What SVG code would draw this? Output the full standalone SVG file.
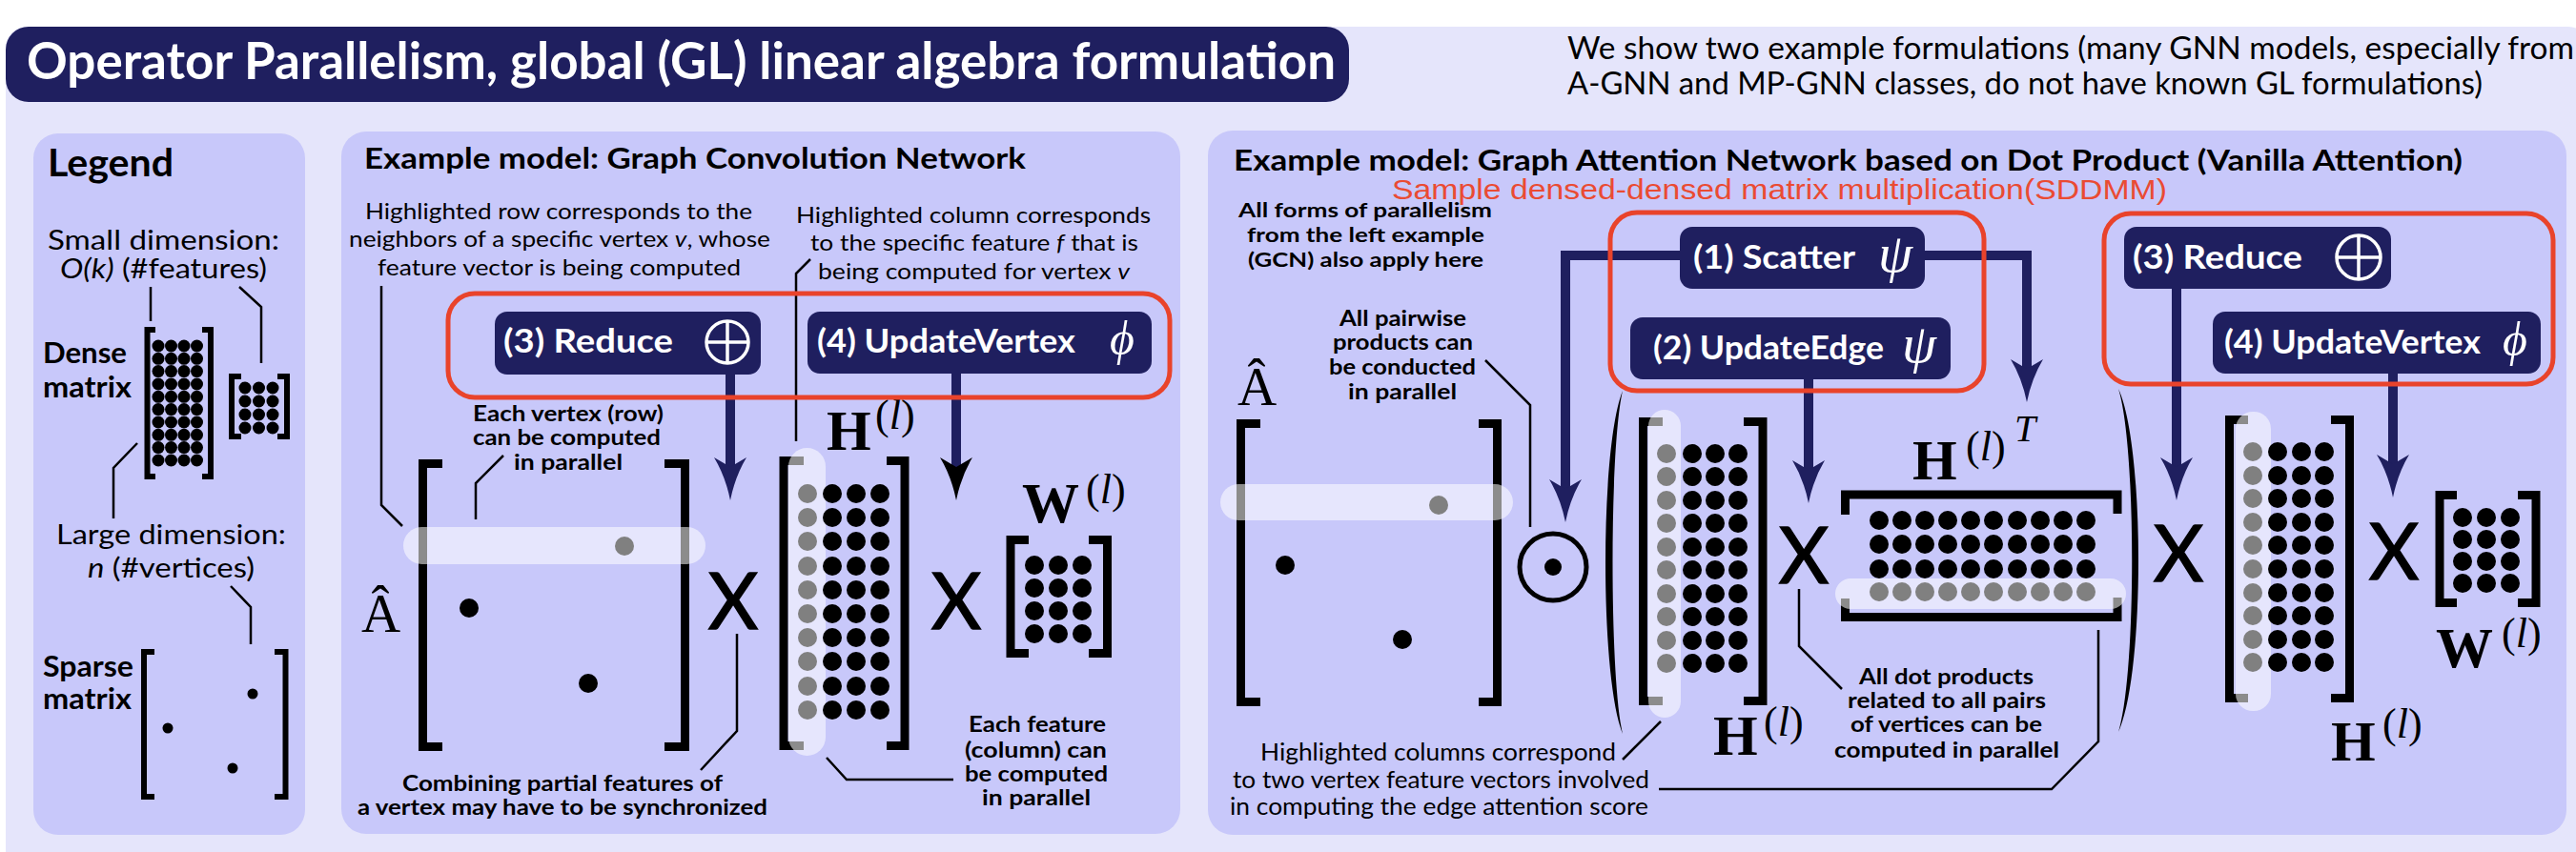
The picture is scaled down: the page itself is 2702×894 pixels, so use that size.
<svg xmlns="http://www.w3.org/2000/svg" width="2702" height="894" viewBox="0 0 2702 894">
<style>
.t{font-family:Lato,"Liberation Sans",sans-serif;}
.b{font-weight:bold;}
.w{fill:#fff;}
.m{font-family:"Liberation Serif","DejaVu Serif",serif;}
.it{font-style:italic;}
.panel{fill:#c8c8fa;}
.box{fill:#1f1f5f;}
.red{fill:none;stroke:#e9432b;stroke-width:5;}
.brk{fill:none;stroke:#000;stroke-width:9;}
.brks{fill:none;stroke:#000;stroke-width:6;}
.hl{fill:#fff;fill-opacity:0.55;}
.ln{fill:none;stroke:#000;stroke-width:2.5;}
.arr{fill:none;stroke:#1f1f5f;stroke-width:10;}
.g{fill:#808080;}
.x{stroke:#000;stroke-width:1.5;}
</style>
<defs>
<marker id="ah" markerUnits="userSpaceOnUse" markerWidth="50" markerHeight="40" viewBox="0 -20 50 40" refX="10" refY="0" orient="auto">
<path d="M0,-17 L10,0 L0,17 Q20,5 45,0 Q20,-5 0,-17 Z" fill="#1f1f5f"/>
</marker>
<marker id="ahk" markerUnits="userSpaceOnUse" markerWidth="50" markerHeight="40" viewBox="0 -20 50 40" refX="10" refY="0" orient="auto">
<path d="M0,-17 L10,0 L0,17 Q20,5 45,0 Q20,-5 0,-17 Z" fill="#000"/>
</marker>
</defs>

<rect x="0" y="0" width="2702" height="894" fill="#fff"/>
<rect x="6" y="28" width="2710" height="890" rx="22" fill="#e5e5fb"/>

<g id="title">
<rect x="6" y="28" width="1409" height="79" rx="24" class="box"/>
<text x="28" y="83" class="t b w" font-size="53" textLength="1373" lengthAdjust="spacingAndGlyphs">Operator Parallelism, global (GL) linear algebra formulation</text>
</g>
<g id="note">
<text x="1644" y="62" class="t" font-size="33" textLength="1056" lengthAdjust="spacingAndGlyphs">We show two example formulations (many GNN models, especially from</text>
<text x="1644" y="99" class="t" font-size="33" textLength="960" lengthAdjust="spacingAndGlyphs">A-GNN and MP-GNN classes, do not have known GL formulations)</text>
</g>

<!-- panels -->
<rect id="legend-panel" x="35" y="140" width="285" height="736" rx="26" class="panel"/>
<rect id="gcn-panel" x="358" y="138" width="880" height="737" rx="26" class="panel"/>
<rect id="gat-panel" x="1267" y="137" width="1425" height="739" rx="26" class="panel"/>

<!-- Legend -->
<g id="legend">
<text x="50" y="185" class="t b" font-size="41" textLength="132" lengthAdjust="spacingAndGlyphs">Legend</text>
<text x="50" y="262" class="t" font-size="29" textLength="243" lengthAdjust="spacingAndGlyphs">Small dimension:</text>
<text x="63" y="292" class="t" font-size="29" textLength="217" lengthAdjust="spacingAndGlyphs"><tspan class="it">O(k)</tspan> (#features)</text>
<text x="45" y="381" class="t b" font-size="31" textLength="88" lengthAdjust="spacingAndGlyphs">Dense</text>
<text x="45" y="417" class="t b" font-size="31" textLength="93" lengthAdjust="spacingAndGlyphs">matrix</text>
<text x="59" y="571" class="t" font-size="29" textLength="241" lengthAdjust="spacingAndGlyphs">Large dimension:</text>
<text x="92" y="606" class="t" font-size="29" textLength="175" lengthAdjust="spacingAndGlyphs"><tspan class="it">n</tspan> (#vertices)</text>
<text x="45" y="710" class="t b" font-size="31" textLength="95" lengthAdjust="spacingAndGlyphs">Sparse</text>
<text x="45" y="744" class="t b" font-size="31" textLength="93" lengthAdjust="spacingAndGlyphs">matrix</text>
<path class="ln" d="M158 301 V337 M251 301 L274 322 V381 M144 465 L119 491 V544 M242 615 L263 637 V676"/>
</g>
<g id="legend-dense">
<path class="brks" d="M163 346 H154.5 V500 H163 M212 346 H221 V500 H212"/>
<g>
<circle cx="166" cy="363" r="6.5"/><circle cx="179.5" cy="363" r="6.5"/><circle cx="193" cy="363" r="6.5"/><circle cx="206.5" cy="363" r="6.5"/>
<circle cx="166" cy="376.3" r="6.5"/><circle cx="179.5" cy="376.3" r="6.5"/><circle cx="193" cy="376.3" r="6.5"/><circle cx="206.5" cy="376.3" r="6.5"/>
<circle cx="166" cy="389.6" r="6.5"/><circle cx="179.5" cy="389.6" r="6.5"/><circle cx="193" cy="389.6" r="6.5"/><circle cx="206.5" cy="389.6" r="6.5"/>
<circle cx="166" cy="403" r="6.5"/><circle cx="179.5" cy="403" r="6.5"/><circle cx="193" cy="403" r="6.5"/><circle cx="206.5" cy="403" r="6.5"/>
<circle cx="166" cy="416.3" r="6.5"/><circle cx="179.5" cy="416.3" r="6.5"/><circle cx="193" cy="416.3" r="6.5"/><circle cx="206.5" cy="416.3" r="6.5"/>
<circle cx="166" cy="429.6" r="6.5"/><circle cx="179.5" cy="429.6" r="6.5"/><circle cx="193" cy="429.6" r="6.5"/><circle cx="206.5" cy="429.6" r="6.5"/>
<circle cx="166" cy="443" r="6.5"/><circle cx="179.5" cy="443" r="6.5"/><circle cx="193" cy="443" r="6.5"/><circle cx="206.5" cy="443" r="6.5"/>
<circle cx="166" cy="456.3" r="6.5"/><circle cx="179.5" cy="456.3" r="6.5"/><circle cx="193" cy="456.3" r="6.5"/><circle cx="206.5" cy="456.3" r="6.5"/>
<circle cx="166" cy="469.6" r="6.5"/><circle cx="179.5" cy="469.6" r="6.5"/><circle cx="193" cy="469.6" r="6.5"/><circle cx="206.5" cy="469.6" r="6.5"/>
<circle cx="166" cy="483" r="6.5"/><circle cx="179.5" cy="483" r="6.5"/><circle cx="193" cy="483" r="6.5"/><circle cx="206.5" cy="483" r="6.5"/>
</g>
</g>
<g id="legend-small">
<path class="brks" d="M253 395 H243 V458 H253 M291 395 H301 V458 H291"/>
<circle cx="257" cy="407" r="6.5"/><circle cx="271.5" cy="407" r="6.5"/><circle cx="286" cy="407" r="6.5"/>
<circle cx="257" cy="421" r="6.5"/><circle cx="271.5" cy="421" r="6.5"/><circle cx="286" cy="421" r="6.5"/>
<circle cx="257" cy="435" r="6.5"/><circle cx="271.5" cy="435" r="6.5"/><circle cx="286" cy="435" r="6.5"/>
<circle cx="257" cy="449" r="6.5"/><circle cx="271.5" cy="449" r="6.5"/><circle cx="286" cy="449" r="6.5"/>
</g>
<g id="legend-sparse">
<path class="brks" d="M162 684 H151 V836 H162 M288 684 H299.5 V836 H288"/>
<circle cx="265" cy="728" r="5.5"/><circle cx="176" cy="764" r="5.5"/><circle cx="244" cy="806" r="5.5"/>
</g>

<!-- GCN -->
<g id="gcn-text">
<text x="382" y="177" class="t b" font-size="31" textLength="694" lengthAdjust="spacingAndGlyphs">Example model: Graph Convolution Network</text>
<text x="383" y="230" class="t" font-size="24" textLength="406" lengthAdjust="spacingAndGlyphs">Highlighted row corresponds to the</text>
<text x="366" y="259" class="t" font-size="24" textLength="442" lengthAdjust="spacingAndGlyphs">neighbors of a specific vertex <tspan class="it">v</tspan>, whose</text>
<text x="396" y="289" class="t" font-size="24" textLength="381" lengthAdjust="spacingAndGlyphs">feature vector is being computed</text>
<text x="835" y="234" class="t" font-size="24" textLength="372" lengthAdjust="spacingAndGlyphs">Highlighted column corresponds</text>
<text x="850" y="263" class="t" font-size="24" textLength="344" lengthAdjust="spacingAndGlyphs">to the specific feature <tspan class="it">f</tspan> that is</text>
<text x="858" y="293" class="t" font-size="24" textLength="327" lengthAdjust="spacingAndGlyphs">being computed for vertex <tspan class="it">v</tspan></text>
<text x="496" y="442" class="t b" font-size="22" textLength="200" lengthAdjust="spacingAndGlyphs">Each vertex (row)</text>
<text x="496" y="467" class="t b" font-size="22" textLength="197" lengthAdjust="spacingAndGlyphs">can be computed</text>
<text x="539" y="493" class="t b" font-size="22" textLength="114" lengthAdjust="spacingAndGlyphs">in parallel</text>
<text x="422" y="830" class="t b" font-size="22" textLength="336" lengthAdjust="spacingAndGlyphs">Combining partial features of</text>
<text x="375" y="855" class="t b" font-size="22" textLength="430" lengthAdjust="spacingAndGlyphs">a vertex may have to be synchronized</text>
<text x="1016" y="768" class="t b" font-size="22" textLength="144" lengthAdjust="spacingAndGlyphs">Each feature</text>
<text x="1012" y="795" class="t b" font-size="22" textLength="149" lengthAdjust="spacingAndGlyphs">(column) can</text>
<text x="1012" y="820" class="t b" font-size="22" textLength="150" lengthAdjust="spacingAndGlyphs">be computed</text>
<text x="1030" y="845" class="t b" font-size="22" textLength="114" lengthAdjust="spacingAndGlyphs">in parallel</text>
<text x="769" y="660" class="t x" font-size="81" text-anchor="middle">X</text>
<text x="1003" y="660" class="t x" font-size="81" text-anchor="middle">X</text>
</g>

<g id="gcn-A">
<text x="379" y="663" class="m" font-size="57">Â</text>
<path class="brk" d="M464 486.5 H443.5 V783.5 H464 M697 486.5 H718.5 V783.5 H697"/>
<rect x="423" y="553" width="317" height="39" rx="19.5" class="hl"/>
<circle cx="655" cy="573" r="10" class="g"/>
<circle cx="492" cy="638" r="10"/>
<circle cx="617" cy="717" r="10"/>
</g>

<g id="gcn-H">
<text x="867" y="472" class="m b" font-size="60">H</text>
<text x="918" y="450" class="m" font-size="44">(<tspan class="it">l</tspan>)</text>
<path class="brk" d="M843 483.5 H822 V782.5 H843 M930 483.5 H949 V782.5 H930"/>
<rect x="827" y="470" width="39" height="323" rx="19.5" class="hl"/>
<g class="g">
<circle cx="847" cy="518" r="10"/><circle cx="847" cy="543" r="10"/><circle cx="847" cy="568" r="10"/><circle cx="847" cy="594" r="10"/><circle cx="847" cy="619" r="10"/><circle cx="847" cy="644" r="10"/><circle cx="847" cy="669" r="10"/><circle cx="847" cy="694" r="10"/><circle cx="847" cy="720" r="10"/><circle cx="847" cy="745" r="10"/>
</g>
<g>
<circle cx="873" cy="518" r="10"/><circle cx="873" cy="543" r="10"/><circle cx="873" cy="568" r="10"/><circle cx="873" cy="594" r="10"/><circle cx="873" cy="619" r="10"/><circle cx="873" cy="644" r="10"/><circle cx="873" cy="669" r="10"/><circle cx="873" cy="694" r="10"/><circle cx="873" cy="720" r="10"/><circle cx="873" cy="745" r="10"/>
<circle cx="898" cy="518" r="10"/><circle cx="898" cy="543" r="10"/><circle cx="898" cy="568" r="10"/><circle cx="898" cy="594" r="10"/><circle cx="898" cy="619" r="10"/><circle cx="898" cy="644" r="10"/><circle cx="898" cy="669" r="10"/><circle cx="898" cy="694" r="10"/><circle cx="898" cy="720" r="10"/><circle cx="898" cy="745" r="10"/>
<circle cx="923" cy="518" r="10"/><circle cx="923" cy="543" r="10"/><circle cx="923" cy="568" r="10"/><circle cx="923" cy="594" r="10"/><circle cx="923" cy="619" r="10"/><circle cx="923" cy="644" r="10"/><circle cx="923" cy="669" r="10"/><circle cx="923" cy="694" r="10"/><circle cx="923" cy="720" r="10"/><circle cx="923" cy="745" r="10"/>
</g>
</g>

<g id="gcn-W">
<text x="1072" y="548" class="m b" font-size="60">W</text>
<text x="1139" y="528" class="m" font-size="44">(<tspan class="it">l</tspan>)</text>
<path class="brk" d="M1079 566.5 H1060 V685.5 H1079 M1142 566.5 H1161.5 V685.5 H1142"/>
<circle cx="1085" cy="593" r="10"/><circle cx="1110" cy="593" r="10"/><circle cx="1135" cy="593" r="10"/>
<circle cx="1085" cy="617" r="10"/><circle cx="1110" cy="617" r="10"/><circle cx="1135" cy="617" r="10"/>
<circle cx="1085" cy="641" r="10"/><circle cx="1110" cy="641" r="10"/><circle cx="1135" cy="641" r="10"/>
<circle cx="1085" cy="665" r="10"/><circle cx="1110" cy="665" r="10"/><circle cx="1135" cy="665" r="10"/>
</g>

<!-- GAT -->
<g id="gat-text">
<text x="1294" y="179" class="t b" font-size="31" textLength="1289" lengthAdjust="spacingAndGlyphs">Example model: Graph Attention Network based on Dot Product (Vanilla Attention)</text>
<text x="1460" y="209" font-family="'Liberation Sans',Arial,sans-serif" font-size="30" fill="#ea4b33" textLength="813" lengthAdjust="spacingAndGlyphs">Sample densed-densed matrix multiplication(SDDMM)</text>
<text x="1299" y="228" class="t b" font-size="21" textLength="266" lengthAdjust="spacingAndGlyphs">All forms of parallelism</text>
<text x="1308" y="254" class="t b" font-size="21" textLength="249" lengthAdjust="spacingAndGlyphs">from the left example</text>
<text x="1309" y="280" class="t b" font-size="21" textLength="247" lengthAdjust="spacingAndGlyphs">(GCN) also apply here</text>
<text x="1405" y="342" class="t b" font-size="22" textLength="133" lengthAdjust="spacingAndGlyphs">All pairwise</text>
<text x="1398" y="367" class="t b" font-size="22" textLength="147" lengthAdjust="spacingAndGlyphs">products can</text>
<text x="1394" y="393" class="t b" font-size="22" textLength="154" lengthAdjust="spacingAndGlyphs">be conducted</text>
<text x="1414" y="419" class="t b" font-size="22" textLength="114" lengthAdjust="spacingAndGlyphs">in parallel</text>
<text x="1950" y="718" class="t b" font-size="23" textLength="183" lengthAdjust="spacingAndGlyphs">All dot products</text>
<text x="1938" y="743" class="t b" font-size="23" textLength="208" lengthAdjust="spacingAndGlyphs">related to all pairs</text>
<text x="1941" y="768" class="t b" font-size="23" textLength="201" lengthAdjust="spacingAndGlyphs">of vertices can be</text>
<text x="1924" y="795" class="t b" font-size="23" textLength="236" lengthAdjust="spacingAndGlyphs">computed in parallel</text>
<text x="1322" y="798" class="t" font-size="25" textLength="373" lengthAdjust="spacingAndGlyphs">Highlighted columns correspond</text>
<text x="1293" y="827" class="t" font-size="25" textLength="437" lengthAdjust="spacingAndGlyphs">to two vertex feature vectors involved</text>
<text x="1290" y="855" class="t" font-size="25" textLength="439" lengthAdjust="spacingAndGlyphs">in computing the edge attention score</text>
<text x="1892" y="612" class="t x" font-size="81" text-anchor="middle">X</text>
<text x="2285" y="610" class="t x" font-size="81" text-anchor="middle">X</text>
<text x="2511" y="608" class="t x" font-size="81" text-anchor="middle">X</text>
</g>

<g id="gat-A">
<text x="1298" y="425" class="m" font-size="57">Â</text>
<path class="brk" d="M1322 444.5 H1301.5 V736.5 H1322 M1551 444.5 H1570.5 V736.5 H1551"/>
<rect x="1280" y="508" width="307" height="38" rx="19" class="hl"/>
<circle cx="1509" cy="530" r="10" class="g"/>
<circle cx="1348" cy="593" r="10"/>
<circle cx="1471" cy="671" r="10"/>
</g>

<g id="hadamard">
<circle cx="1629" cy="595" r="35" fill="none" stroke="#000" stroke-width="5"/>
<circle cx="1629" cy="595" r="9"/>
</g>

<g id="parens">
<path d="M1702 410 C1678 470 1678 710 1702 770 C1688 710 1688 470 1702 410 Z"/>
<path d="M2222 408 C2250 468 2250 708 2222 768 C2241 708 2241 468 2222 408 Z"/>
</g>

<g id="gat-H1">
<text x="1797" y="792" class="m b" font-size="60">H</text>
<text x="1850" y="772" class="m" font-size="44">(<tspan class="it">l</tspan>)</text>
<path class="brk" d="M1744 442.5 H1723.5 V735.5 H1744 M1829 442.5 H1849 V735.5 H1829"/>
<rect x="1729" y="430" width="34" height="323" rx="17" class="hl"/>
<g class="g">
<circle cx="1748" cy="476" r="10"/><circle cx="1748" cy="500" r="10"/><circle cx="1748" cy="525" r="10"/><circle cx="1748" cy="549" r="10"/><circle cx="1748" cy="574" r="10"/><circle cx="1748" cy="598" r="10"/><circle cx="1748" cy="623" r="10"/><circle cx="1748" cy="647" r="10"/><circle cx="1748" cy="672" r="10"/><circle cx="1748" cy="696" r="10"/>
</g>
<g>
<circle cx="1775" cy="476" r="10"/><circle cx="1775" cy="500" r="10"/><circle cx="1775" cy="525" r="10"/><circle cx="1775" cy="549" r="10"/><circle cx="1775" cy="574" r="10"/><circle cx="1775" cy="598" r="10"/><circle cx="1775" cy="623" r="10"/><circle cx="1775" cy="647" r="10"/><circle cx="1775" cy="672" r="10"/><circle cx="1775" cy="696" r="10"/>
<circle cx="1799" cy="476" r="10"/><circle cx="1799" cy="500" r="10"/><circle cx="1799" cy="525" r="10"/><circle cx="1799" cy="549" r="10"/><circle cx="1799" cy="574" r="10"/><circle cx="1799" cy="598" r="10"/><circle cx="1799" cy="623" r="10"/><circle cx="1799" cy="647" r="10"/><circle cx="1799" cy="672" r="10"/><circle cx="1799" cy="696" r="10"/>
<circle cx="1823" cy="476" r="10"/><circle cx="1823" cy="500" r="10"/><circle cx="1823" cy="525" r="10"/><circle cx="1823" cy="549" r="10"/><circle cx="1823" cy="574" r="10"/><circle cx="1823" cy="598" r="10"/><circle cx="1823" cy="623" r="10"/><circle cx="1823" cy="647" r="10"/><circle cx="1823" cy="672" r="10"/><circle cx="1823" cy="696" r="10"/>
</g>
</g>

<g id="gat-HT">
<text x="2006" y="503" class="m b" font-size="60">H</text>
<text x="2062" y="483" class="m" font-size="44">(<tspan class="it">l</tspan>)</text>
<text x="2113" y="463" class="m it" font-size="40">T</text>
<path class="brk" d="M1935.5 540 V519 H2221 V539 M1935.5 628 V647.5 H2221 V627"/>
<g>
<circle cx="1971" cy="546" r="10"/><circle cx="1995" cy="546" r="10"/><circle cx="2019" cy="546" r="10"/><circle cx="2043" cy="546" r="10"/><circle cx="2067" cy="546" r="10"/><circle cx="2091" cy="546" r="10"/><circle cx="2116" cy="546" r="10"/><circle cx="2140" cy="546" r="10"/><circle cx="2164" cy="546" r="10"/><circle cx="2188" cy="546" r="10"/>
<circle cx="1971" cy="571" r="10"/><circle cx="1995" cy="571" r="10"/><circle cx="2019" cy="571" r="10"/><circle cx="2043" cy="571" r="10"/><circle cx="2067" cy="571" r="10"/><circle cx="2091" cy="571" r="10"/><circle cx="2116" cy="571" r="10"/><circle cx="2140" cy="571" r="10"/><circle cx="2164" cy="571" r="10"/><circle cx="2188" cy="571" r="10"/>
<circle cx="1971" cy="597" r="10"/><circle cx="1995" cy="597" r="10"/><circle cx="2019" cy="597" r="10"/><circle cx="2043" cy="597" r="10"/><circle cx="2067" cy="597" r="10"/><circle cx="2091" cy="597" r="10"/><circle cx="2116" cy="597" r="10"/><circle cx="2140" cy="597" r="10"/><circle cx="2164" cy="597" r="10"/><circle cx="2188" cy="597" r="10"/>
</g>
<rect x="1925" y="607" width="305" height="32" rx="16" class="hl"/>
<g class="g">
<circle cx="1971" cy="621" r="10"/><circle cx="1995" cy="621" r="10"/><circle cx="2019" cy="621" r="10"/><circle cx="2043" cy="621" r="10"/><circle cx="2067" cy="621" r="10"/><circle cx="2091" cy="621" r="10"/><circle cx="2116" cy="621" r="10"/><circle cx="2140" cy="621" r="10"/><circle cx="2164" cy="621" r="10"/><circle cx="2188" cy="621" r="10"/>
</g>
</g>

<g id="gat-H2">
<text x="2445" y="798" class="m b" font-size="60">H</text>
<text x="2499" y="774" class="m" font-size="44">(<tspan class="it">l</tspan>)</text>
<path class="brk" d="M2358 440.5 H2338.5 V732.5 H2358 M2445 440.5 H2464.5 V732.5 H2445"/>
<rect x="2345" y="432" width="37" height="314" rx="18" class="hl"/>
<g class="g">
<circle cx="2363" cy="474" r="10"/><circle cx="2363" cy="499" r="10"/><circle cx="2363" cy="523" r="10"/><circle cx="2363" cy="548" r="10"/><circle cx="2363" cy="572" r="10"/><circle cx="2363" cy="597" r="10"/><circle cx="2363" cy="622" r="10"/><circle cx="2363" cy="646" r="10"/><circle cx="2363" cy="671" r="10"/><circle cx="2363" cy="695" r="10"/>
</g>
<g>
<circle cx="2389" cy="474" r="10"/><circle cx="2389" cy="499" r="10"/><circle cx="2389" cy="523" r="10"/><circle cx="2389" cy="548" r="10"/><circle cx="2389" cy="572" r="10"/><circle cx="2389" cy="597" r="10"/><circle cx="2389" cy="622" r="10"/><circle cx="2389" cy="646" r="10"/><circle cx="2389" cy="671" r="10"/><circle cx="2389" cy="695" r="10"/>
<circle cx="2414" cy="474" r="10"/><circle cx="2414" cy="499" r="10"/><circle cx="2414" cy="523" r="10"/><circle cx="2414" cy="548" r="10"/><circle cx="2414" cy="572" r="10"/><circle cx="2414" cy="597" r="10"/><circle cx="2414" cy="622" r="10"/><circle cx="2414" cy="646" r="10"/><circle cx="2414" cy="671" r="10"/><circle cx="2414" cy="695" r="10"/>
<circle cx="2438" cy="474" r="10"/><circle cx="2438" cy="499" r="10"/><circle cx="2438" cy="523" r="10"/><circle cx="2438" cy="548" r="10"/><circle cx="2438" cy="572" r="10"/><circle cx="2438" cy="597" r="10"/><circle cx="2438" cy="622" r="10"/><circle cx="2438" cy="646" r="10"/><circle cx="2438" cy="671" r="10"/><circle cx="2438" cy="695" r="10"/>
</g>
</g>

<g id="gat-W">
<text x="2555" y="700" class="m b" font-size="60">W</text>
<text x="2624" y="679" class="m" font-size="44">(<tspan class="it">l</tspan>)</text>
<path class="brk" d="M2577 519.5 H2559 V632.5 H2577 M2641 519.5 H2660 V632.5 H2641"/>
<circle cx="2583" cy="543" r="10"/><circle cx="2608" cy="543" r="10"/><circle cx="2633" cy="543" r="10"/>
<circle cx="2583" cy="566" r="10"/><circle cx="2608" cy="566" r="10"/><circle cx="2633" cy="566" r="10"/>
<circle cx="2583" cy="589" r="10"/><circle cx="2608" cy="589" r="10"/><circle cx="2633" cy="589" r="10"/>
<circle cx="2583" cy="612" r="10"/><circle cx="2608" cy="612" r="10"/><circle cx="2633" cy="612" r="10"/>
</g>

<!-- connectors -->
<g id="connectors">
<path class="ln" d="M400 300 V530 L422 552"/>
<path class="ln" d="M850 272 L835 287 V463"/>
<path class="ln" d="M528 478 L499 507 V545"/>
<path class="ln" d="M773 665 V767 L735 808"/>
<path class="ln" d="M867 795 L888 818 H1000"/>
<path class="ln" d="M1558 378 L1605 425 V553"/>
<path class="ln" d="M1887 618 V678 L1932 723"/>
<path class="ln" d="M1740 828 H2152 L2201 778 V661"/>
<path class="ln" d="M1702 797 L1742 757"/>
<path class="arr" d="M766 393 V490" marker-end="url(#ah)"/>
<path class="arr" d="M1003 392 V490" marker-end="url(#ahk)"/>
<path class="arr" d="M1770 268 H1642 V513" marker-end="url(#ah)"/>
<path class="arr" d="M2010 268 H2126 V387" marker-end="url(#ah)"/>
<path class="arr" d="M1897 398 V493" marker-end="url(#ah)"/>
<path class="arr" d="M2283 303 V490" marker-end="url(#ah)"/>
<path class="arr" d="M2510 392 V487" marker-end="url(#ah)"/>
</g>

<!-- operator groups -->
<rect id="gcn-group" x="470" y="308" width="757" height="109" rx="28" class="red"/>
<rect id="sddmm-group" x="1689" y="223" width="392" height="187" rx="28" class="red"/>
<rect id="gat-group" x="2207" y="224" width="471" height="179" rx="28" class="red"/>

<g id="gcn-reduce">
<rect x="519" y="327" width="279" height="66" rx="13" class="box"/>
<text x="528" y="370" class="t b w" font-size="34" textLength="178" lengthAdjust="spacingAndGlyphs">(3) Reduce</text>
<circle cx="763" cy="359" r="22" fill="none" stroke="#fff" stroke-width="3.5"/>
<path d="M741 359 H785 M763 337 V381" stroke="#fff" stroke-width="3.5"/>
</g>
<g id="gcn-update">
<rect x="847" y="327" width="361" height="65" rx="13" class="box"/>
<text x="857" y="370" class="t b w" font-size="34" textLength="271" lengthAdjust="spacingAndGlyphs">(4) UpdateVertex</text>
<text x="1177" y="372" class="m it w" font-size="50" text-anchor="middle">ϕ</text>
</g>
<g id="gat-scatter">
<rect x="1762" y="238" width="257" height="65" rx="13" class="box"/>
<text x="1776" y="282" class="t b w" font-size="34" textLength="170" lengthAdjust="spacingAndGlyphs">(1) Scatter</text>
<text x="1988" y="285" class="m it w" font-size="58" text-anchor="middle">ψ</text>
</g>
<g id="gat-updateedge">
<rect x="1710" y="333" width="336" height="65" rx="13" class="box"/>
<text x="1734" y="377" class="t b w" font-size="34" textLength="242" lengthAdjust="spacingAndGlyphs">(2) UpdateEdge</text>
<text x="2013" y="380" class="m it w" font-size="58" text-anchor="middle">ψ</text>
</g>
<g id="gat-reduce">
<rect x="2228" y="238" width="280" height="65" rx="13" class="box"/>
<text x="2237" y="282" class="t b w" font-size="34" textLength="178" lengthAdjust="spacingAndGlyphs">(3) Reduce</text>
<circle cx="2474" cy="270" r="23" fill="none" stroke="#fff" stroke-width="3.5"/>
<path d="M2451 270 H2497 M2474 247 V293" stroke="#fff" stroke-width="3.5"/>
</g>
<g id="gat-update">
<rect x="2321" y="327" width="344" height="65" rx="13" class="box"/>
<text x="2333" y="371" class="t b w" font-size="34" textLength="269" lengthAdjust="spacingAndGlyphs">(4) UpdateVertex</text>
<text x="2638" y="373" class="m it w" font-size="50" text-anchor="middle">ϕ</text>
</g>
</svg>
